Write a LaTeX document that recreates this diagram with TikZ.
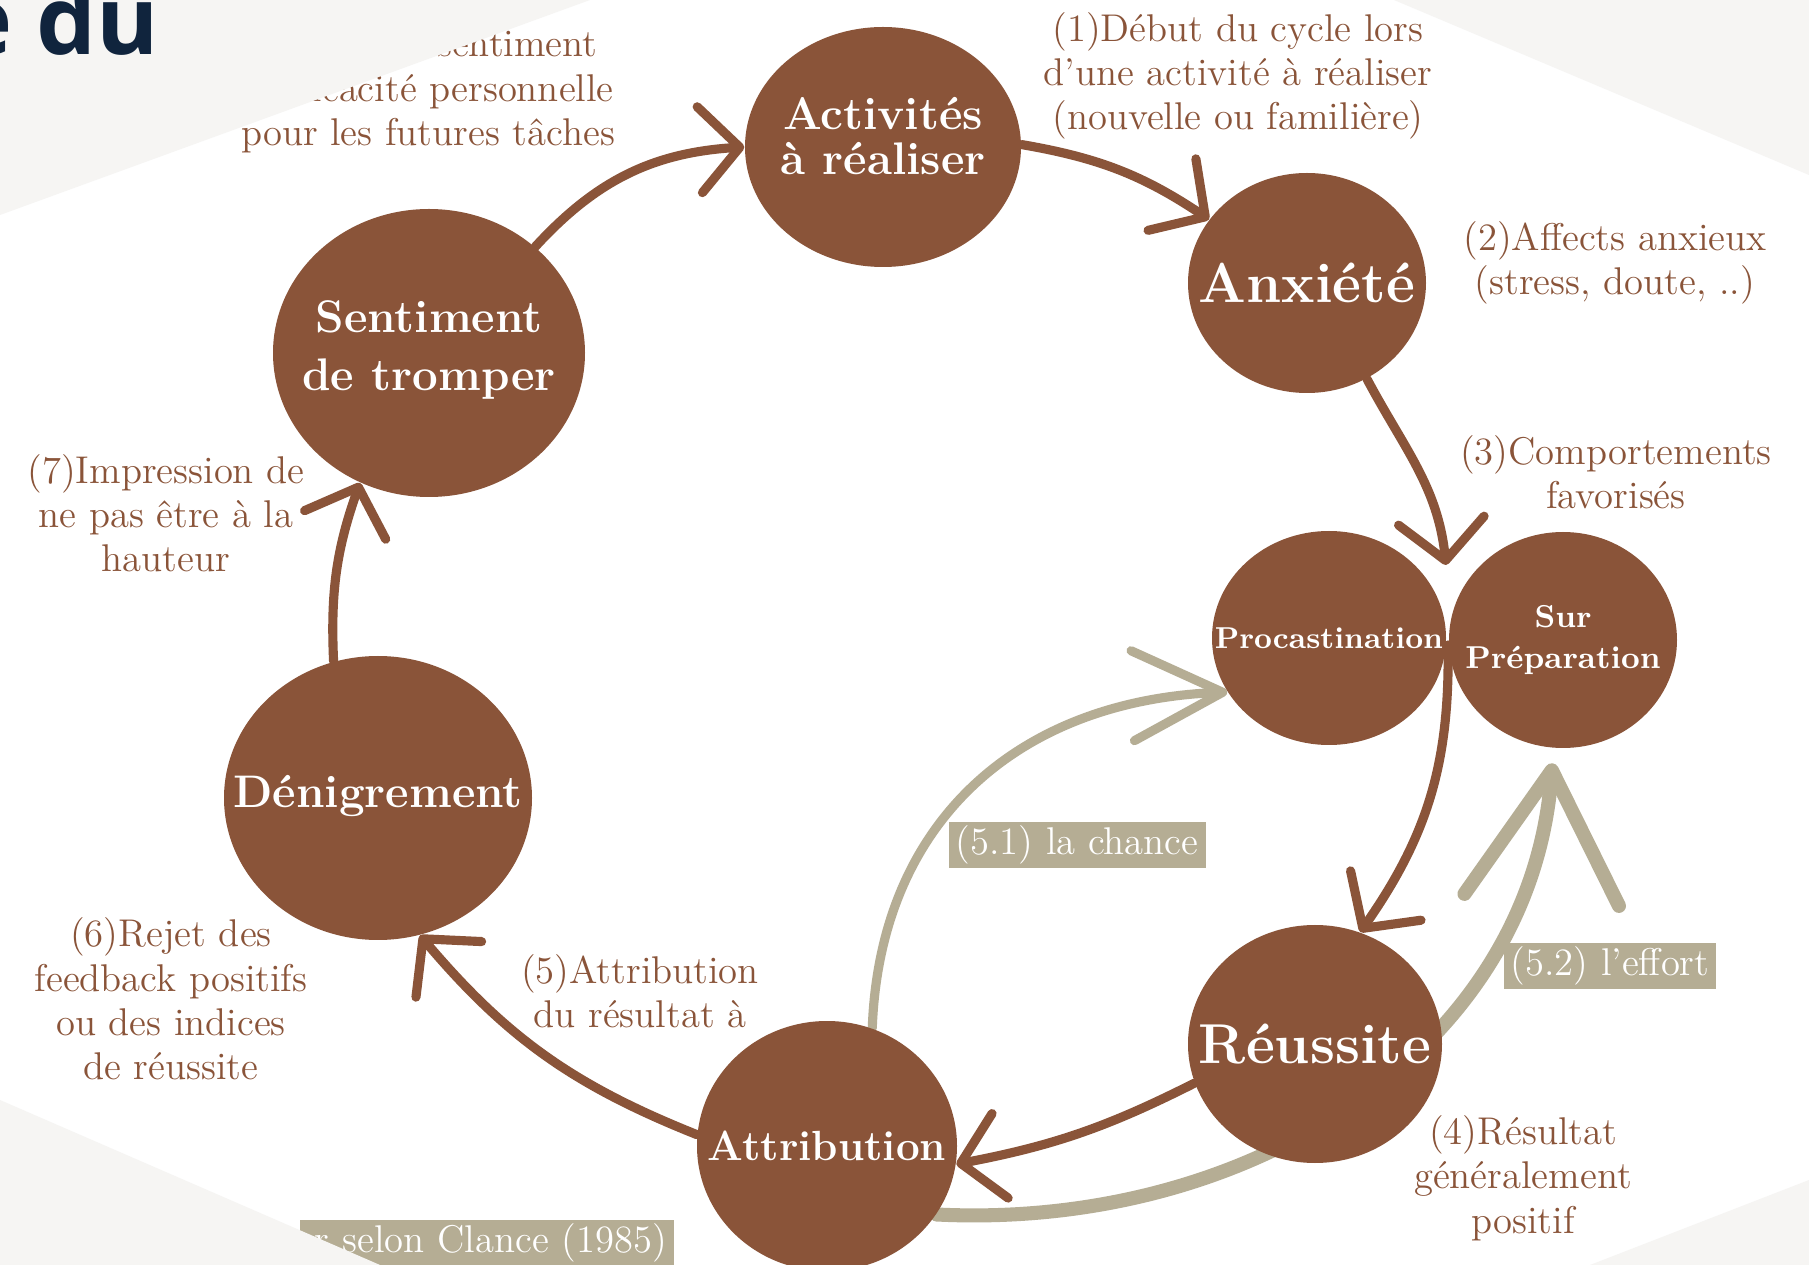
\documentclass[tikz,border=0pt]{standalone}
\usepackage{fontspec}
\usetikzlibrary{arrows.meta,shapes.geometric,backgrounds}
\newfontfamily\titlefont{Open Sans}
\definecolor{brownc}{RGB}{138,84,57}
\definecolor{sagec}{RGB}{181,173,148}
\definecolor{bgc}{RGB}{246,245,243}
\definecolor{navyc}{RGB}{16,36,61}
\tikzset{
  bubble/.style={ellipse, fill=brownc, inner sep=0pt},
  bubtext/.style={text=white, align=center, inner sep=0pt},
  note/.style={text=brownc, align=center, inner sep=0pt, font=\fontsize{11}{12.6}\selectfont},
  tag/.style={fill=sagec, text=white, inner xsep=2pt, inner ysep=1pt, minimum height=0.37cm, font=\fontsize{11}{12}\selectfont},
  cyc/.style={draw=brownc, line width=2.6pt, line cap=round, -{Straight Barb[length=4mm,width=8.6mm,round]}},
  chance/.style={draw=sagec, line width=2.6pt, line cap=round, -{Straight Barb[length=9mm,width=9mm,round]}},
  effort/.style={draw=sagec, line width=4pt, line cap=round, shorten >=1.5mm, -{Straight Barb[length=13mm,width=15.5mm,round]}}
}
\begin{document}
\begin{tikzpicture}
        \useasboundingbox (0,0) rectangle (18.09,-12.65);
        \node[bubble, minimum width=2.76cm, minimum height=2.40cm] (act) at (8.83,-1.47) {};
        \node[bubble, minimum width=2.38cm, minimum height=2.20cm] (anx) at (13.07,-2.83) {};
        \node[bubble, minimum width=3.12cm, minimum height=2.88cm] (sent) at (4.29,-3.53) {};
        \node[bubble, minimum width=2.34cm, minimum height=2.14cm] (proc) at (13.29,-6.38) {};
        \node[bubble, minimum width=2.28cm, minimum height=2.16cm] (sur) at (15.63,-6.40) {};
        \node[bubble, minimum width=3.08cm, minimum height=2.84cm] (den) at (3.78,-7.98) {};
        \node[bubble, minimum width=2.60cm, minimum height=2.50cm] (attr) at (8.27,-11.46) {};
        \node[bubble, minimum width=2.54cm, minimum height=2.38cm] (reu) at (13.15,-10.44) {};
        \coordinate (jtop) at (14.46,-5.65);
        \coordinate (jbot) at (14.48,-6.45);
        \begin{scope}[on background layer]
        \fill[white] (0,0) rectangle (18.09,-12.65);
        \draw[chance] (attr.69) .. controls (8.80,-8.20) and (10.20,-7.00) .. (proc.208);
        \draw[effort] (attr.-32) .. controls (12.50,-12.30) and (15.30,-10.50) .. (sur.-95);
        \end{scope}
        \draw[cyc] (sent.45) to[bend left=22] (act.180);
        \draw[cyc] (act.1) to[bend left=12] (anx.147);
        \draw[cyc] (anx.-58) to[out=-62,in=96] (jtop);
        \draw[cyc] (jbot) to[bend left=18] (reu.68);
        \draw[cyc] (reu.198) to[bend left=8] (attr.-8);
        \draw[cyc] (attr.175) to[bend left=14] (den.-73);
        \draw[cyc] (den.108) to[bend left=11] (sent.242);
        \node[bubtext, font=\fontsize{13}{13}\selectfont\bfseries] (act-t) at (8.83,-1.36) {Activités\\à réaliser};
        \node[bubtext, font=\fontsize{16}{16}\selectfont\bfseries] (anx-t) at (13.07,-2.83) {Anxiété};
        \node[bubtext, font=\fontsize{13}{16.5}\selectfont\bfseries] (sent-t) at (4.29,-3.50) {Sentiment\\de tromper};
        \node[bubtext, font=\fontsize{8.6}{11}\selectfont\bfseries] (proc-t) at (13.29,-6.38) {Procastination};
        \node[bubtext, font=\fontsize{9}{11.5}\selectfont\bfseries] (sur-t) at (15.63,-6.40) {Sur\\Préparation};
        \node[bubtext, font=\fontsize{13}{13}\selectfont\bfseries] (den-t) at (3.78,-7.96) {Dénigrement};
        \node[bubtext, font=\fontsize{12}{12}\selectfont\bfseries] (attr-t) at (8.27,-11.46) {Attribution};
        \node[bubtext, font=\fontsize{16}{16}\selectfont\bfseries] (reu-t) at (13.15,-10.44) {Réussite};
        \node[note] (l1) at (12.38,-0.76) {(1)Début du cycle lors\\d'une activité à réaliser\\(nouvelle ou familière)};
        \node[note] (l2) at (16.15,-2.63) {(2)Affects anxieux\\(stress, doute, ..)};
        \node[note] (l3) at (16.16,-4.72) {(3)Comportements\\favorisés};
        \node[note] (l4) at (15.23,-11.78) {(4)Résultat\\généralement\\positif};
        \node[note] (l5) at (6.40,-9.91) {(5)Attribution\\du résultat à};
        \node[note] (l6) at (1.71,-9.99) {(6)Rejet des\\feedback positifs\\ou des indices\\de réussite};
        \node[note] (l7) at (1.66,-5.13) {(7)Impression de\\ne pas être à la\\hauteur};
        \node[note, anchor=base east] (l8a) at (5.98,-0.57) {sentiment};
        \node[note] (l8b) at (4.28,-1.14) {d'efficacité personnelle\\pour les futures tâches};
        \node[tag] (t51) at (10.77,-8.45) {(5.1) la chance};
        \node[tag] (t52) at (16.10,-9.66) {(5.2) l'effort};
        \node[tag, anchor=east, text width=3.6cm, align=right] (src) at (6.75,-12.43) {r selon Clance (1985)};
        \fill[bgc] (0,0) -- (5.90,0) -- (0,-2.15) -- cycle;
        \fill[bgc] (13.94,0) -- (18.09,0) -- (18.09,-1.75) -- cycle;
        \fill[bgc] (0,-11.00) -- (3.80,-12.65) -- (0,-12.65) -- cycle;
        \fill[bgc] (15.90,-12.65) -- (18.09,-11.80) -- (18.09,-12.65) -- cycle;
        \node[font=\titlefont\fontsize{27}{27}\selectfont\bfseries, text=navyc, anchor=base east, inner sep=0pt] (ttl) at (1.60,-0.55) {e du};
    \end{tikzpicture}
\end{document}
